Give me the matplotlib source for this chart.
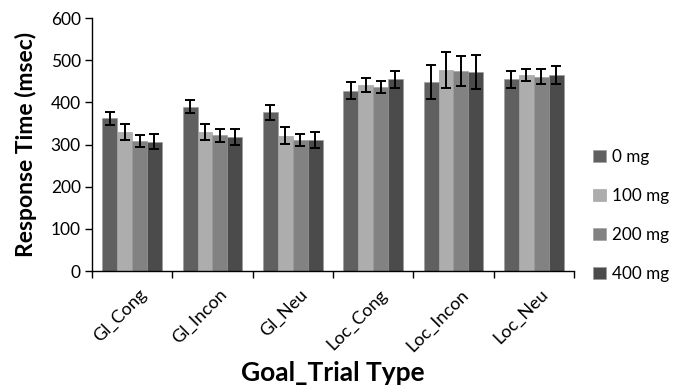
import numpy as np
import matplotlib
matplotlib.use("Agg")
import matplotlib.pyplot as plt
from matplotlib.ticker import FixedLocator, NullFormatter

categories = ["Gl_Cong", "Gl_Incon", "Gl_Neu", "Loc_Cong", "Loc_Incon", "Loc_Neu"]
doses = ["0 mg", "100 mg", "200 mg", "400 mg"]

rt_0mg   = [362, 390, 376, 428, 449, 455]
rt_100mg = [329, 329, 321, 441, 477, 465]
rt_200mg = [308, 322, 311, 436, 475, 461]
rt_400mg = [307, 318, 311, 455, 472, 465]

err_0mg   = [16, 16, 17, 21, 40, 20]
err_100mg = [19, 19, 20, 17, 42, 15]
err_200mg = [15, 16, 15, 14, 35, 17]
err_400mg = [18, 20, 19, 20, 41, 21]

values = [rt_0mg, rt_100mg, rt_200mg, rt_400mg]
errors = [err_0mg, err_100mg, err_200mg, err_400mg]
colors = ["#606060", "#adadad", "#828282", "#4b4b4b"]

plt.rcParams["font.family"] = ["Lato", "DejaVu Sans"]

fig = plt.figure(figsize=(6.76, 3.88), dpi=100)
ax = fig.add_axes([0.136, 0.3015, 0.713, 0.652])

n_groups = len(categories)
x = np.arange(n_groups)
group_width = 1 / 1.35
bar_w = group_width / len(doses)

handles = []
for i, (vals, errs, col) in enumerate(zip(values, errors, colors)):
    pos = x - group_width / 2 + bar_w * (i + 0.5)
    h = ax.bar(pos, vals, width=bar_w, color=col, edgecolor="#9a9a9a",
               linewidth=0.4, label=doses[i], zorder=2)
    ax.errorbar(pos, vals, yerr=errs, fmt="none", ecolor="black",
                elinewidth=1.4, capsize=3.8, capthick=1.4, zorder=3)
    handles.append(h)

ax.set_xlim(-0.5, n_groups - 0.5)
ax.set_ylim(0, 600)
ax.set_yticks(np.arange(0, 601, 100))

ax.set_xticks(x + 0.08)
ax.set_xticklabels(categories, rotation=45, ha="right", rotation_mode="anchor",
                   fontsize=13)
ax.tick_params(axis="x", which="major", length=0, pad=11)
ax.xaxis.set_minor_locator(FixedLocator(np.arange(-0.5, n_groups, 1.0)))
ax.xaxis.set_minor_formatter(NullFormatter())
ax.tick_params(axis="x", which="minor", length=5, width=1, color="black")
ax.tick_params(axis="y", length=5, width=1, labelsize=12.5, pad=3)

for s in ["top", "right"]:
    ax.spines[s].set_visible(False)
for s in ["left", "bottom"]:
    ax.spines[s].set_color("black")
    ax.spines[s].set_linewidth(1)

ax.set_ylabel("Response Time (msec)", fontsize=16.5, fontweight="bold", labelpad=10)
ax.set_xlabel("Goal_Trial Type", fontsize=19, fontweight="bold", labelpad=5)

leg = fig.legend(handles=handles, labels=doses, loc="center left",
                 bbox_to_anchor=(0.855, 0.445), frameon=False, fontsize=12.3,
                 handlelength=0.75, handleheight=0.75, handletextpad=0.35,
                 labelspacing=1.35)

fig.savefig("out.png", dpi=100)
